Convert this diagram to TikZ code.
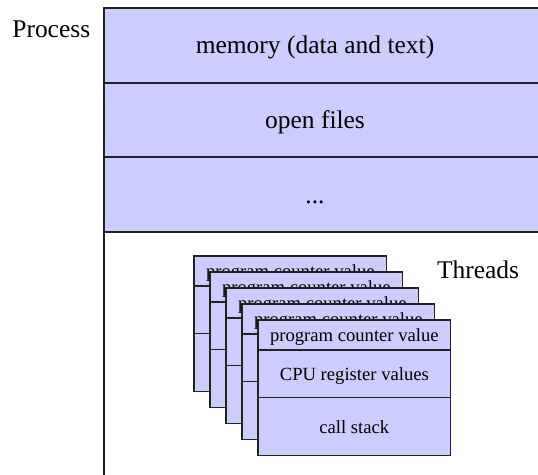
\documentclass[tikz,border=0pt]{standalone}
\usepackage{fontspec}
\setmainfont{Liberation Serif}
\usetikzlibrary{positioning}
\definecolor{CFILL}{RGB}{204,204,255}
\definecolor{CLINE}{RGB}{34,34,34}

\begin{document}
\begin{tikzpicture}[
  procrow/.style={draw=CLINE,fill=CFILL,line width=0.8pt},
  proctext/.style={font=\fontsize{14.5}{17}\selectfont,inner sep=0pt},
  cardrow/.style={draw=CLINE,fill=CFILL,line width=0.85pt,outer sep=0pt,inner sep=0pt,
    minimum width=3.8540cm,text height=1.08em,text depth=0.3em,
    font=\fontsize{10.6}{12}\selectfont},
]
  \path[use as bounding box,clip] (0.0000cm,0.0000cm) rectangle (10.7600cm,9.5000cm);
  % — process box
  \draw[procrow] (2.0800cm,7.8400cm) rectangle (11.5000cm,9.3400cm);
  \draw[procrow] (2.0800cm,6.3600cm) rectangle (11.5000cm,7.8400cm);
  \draw[procrow] (2.0800cm,4.8600cm) rectangle (11.5000cm,6.3600cm);
  \draw[CLINE,line width=0.8pt] (2.0800cm,4.8600cm) rectangle (11.5000cm,-1.0000cm);
  \node[proctext,anchor=base] (mem) at (6.3000cm,8.4300cm) {memory (data and text)};
  \node[proctext,anchor=base] (files) at (6.3000cm,6.9200cm) {open files};
  \node[proctext,anchor=base] (more) at (6.3000cm,5.4300cm) {...};
  \node[proctext,anchor=base west] (proc) at (0.2400cm,8.7400cm) {Process};
  \node[proctext,anchor=base west] (thr) at (8.7340cm,3.9340cm) {Threads};
  % — thread cards, back to front
  \foreach \i in {0,...,4} {
    \pgfmathsetmacro{\cx}{3.88+0.32*\i}
    \pgfmathsetmacro{\cy}{4.38-0.32*\i}
    \node[cardrow,minimum height=0.6000cm,anchor=north west] (pc\i) at (\cx cm,\cy cm) {program counter value};
    \node[cardrow,minimum height=0.9520cm,below=0pt of pc\i] (reg\i) {CPU register values};
    \node[cardrow,minimum height=1.1540cm,below=0pt of reg\i] (stk\i) {call stack};
  }
\end{tikzpicture}
\end{document}
